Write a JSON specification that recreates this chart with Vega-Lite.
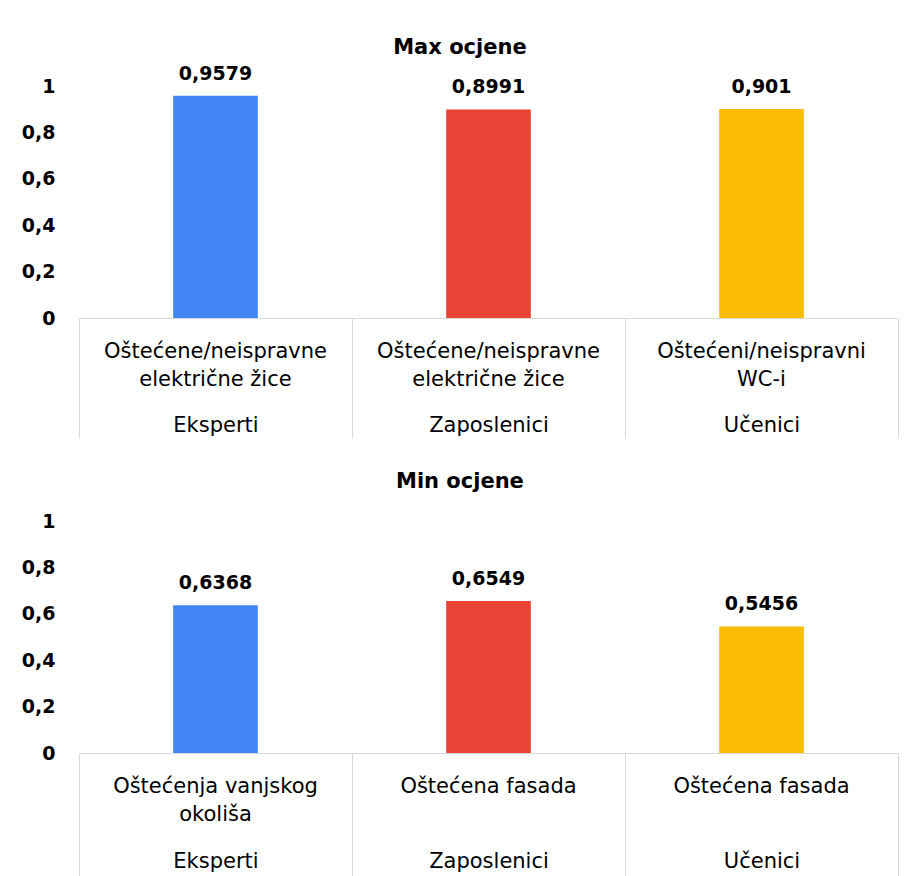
{
  "$schema": "https://vega.github.io/schema/vega-lite/v6.json",
  "padding": {"left": 21, "top": 36, "right": 5, "bottom": 0},
  "background": "white",
  "config": {
    "font": "DejaVu Sans",
    "view": {"stroke": null},
    "concat": {"spacing": 32},
    "locale": {"number": {"decimal": ",", "thousands": ".", "grouping": [3], "currency": ["", " kn"]}}
  },
  "vconcat": [
    {
      "title": {"text": "Max ocjene", "fontSize": 21, "fontWeight": "bold", "color": "#000000", "anchor": "middle", "frame": "bounds", "offset": 7},
      "width": 819,
      "height": 232,
      "data": {"values": [
        {"grupa": "Eksperti", "stavka": "Oštećene/neispravne\nelektrične žice", "v": 0.9579},
        {"grupa": "Zaposlenici", "stavka": "Oštećene/neispravne\nelektrične žice", "v": 0.8991},
        {"grupa": "Učenici", "stavka": "Oštećeni/neispravni\nWC-i", "v": 0.901}
      ]},
      "encoding": {
        "x": {"field": "grupa", "type": "nominal", "sort": null, "scale": {"paddingInner": 0, "paddingOuter": 0},
          "axis": {"title": null, "domainColor": "#d9d9d9", "ticks": true, "tickBand": "extent", "tickSize": 120, "tickColor": "#d9d9d9", "labelFontSize": 21, "labelColor": "#000000", "labelBaseline": "alphabetic", "labelPadding": -7, "labelAngle": 0}}
      },
      "layer": [
        {
          "mark": {"type": "bar", "width": {"band": 0.31}},
          "encoding": {
            "y": {"field": "v", "type": "quantitative", "scale": {"domain": [0, 1], "nice": false},
              "axis": {"title": null, "domain": false, "ticks": false, "grid": false, "values": [0, 0.2, 0.4, 0.6, 0.8, 1], "format": "~g", "labelFontSize": 19, "labelFontWeight": "bold", "labelColor": "#000000", "labelPadding": 24}},
            "color": {"field": "grupa", "type": "nominal", "scale": {"domain": ["Eksperti", "Zaposlenici", "Učenici"], "range": ["#4285F4", "#EA4335", "#FBBC04"]}, "legend": null}
          }
        },
        {
          "mark": {"type": "text", "baseline": "alphabetic", "dy": -16, "fontSize": 19, "fontWeight": "bold", "color": "#000000"},
          "encoding": {
            "y": {"field": "v", "type": "quantitative"},
            "text": {"field": "v", "type": "quantitative", "format": ".4~f"}
          }
        },
        {
          "mark": {"type": "text", "baseline": "alphabetic", "dy": 40, "lineBreak": "\n", "lineHeight": 28, "fontSize": 21, "color": "#000000"},
          "encoding": {
            "y": {"datum": 0},
            "text": {"field": "stavka"}
          }
        }
      ]
    },
    {
      "title": {"text": "Min ocjene", "fontSize": 21, "fontWeight": "bold", "color": "#000000", "anchor": "middle", "frame": "bounds", "offset": 20},
      "width": 819,
      "height": 232,
      "data": {"values": [
        {"grupa": "Eksperti", "stavka": "Oštećenja vanjskog\nokoliša", "v": 0.6368},
        {"grupa": "Zaposlenici", "stavka": "Oštećena fasada", "v": 0.6549},
        {"grupa": "Učenici", "stavka": "Oštećena fasada", "v": 0.5456}
      ]},
      "encoding": {
        "x": {"field": "grupa", "type": "nominal", "sort": null, "scale": {"paddingInner": 0, "paddingOuter": 0},
          "axis": {"title": null, "domainColor": "#d9d9d9", "ticks": true, "tickBand": "extent", "tickSize": 124, "tickColor": "#d9d9d9", "labelFontSize": 21, "labelColor": "#000000", "labelBaseline": "alphabetic", "labelPadding": -10, "labelAngle": 0}}
      },
      "layer": [
        {
          "mark": {"type": "bar", "width": {"band": 0.31}},
          "encoding": {
            "y": {"field": "v", "type": "quantitative", "scale": {"domain": [0, 1], "nice": false},
              "axis": {"title": null, "domain": false, "ticks": false, "grid": false, "values": [0, 0.2, 0.4, 0.6, 0.8, 1], "format": "~g", "labelFontSize": 19, "labelFontWeight": "bold", "labelColor": "#000000", "labelPadding": 24}},
            "color": {"field": "grupa", "type": "nominal", "scale": {"domain": ["Eksperti", "Zaposlenici", "Učenici"], "range": ["#4285F4", "#EA4335", "#FBBC04"]}, "legend": null}
          }
        },
        {
          "mark": {"type": "text", "baseline": "alphabetic", "dy": -16, "fontSize": 19, "fontWeight": "bold", "color": "#000000"},
          "encoding": {
            "y": {"field": "v", "type": "quantitative"},
            "text": {"field": "v", "type": "quantitative", "format": ".4~f"}
          }
        },
        {
          "mark": {"type": "text", "baseline": "alphabetic", "dy": 40, "lineBreak": "\n", "lineHeight": 28, "fontSize": 21, "color": "#000000"},
          "encoding": {
            "y": {"datum": 0},
            "text": {"field": "stavka"}
          }
        }
      ]
    }
  ]
}
